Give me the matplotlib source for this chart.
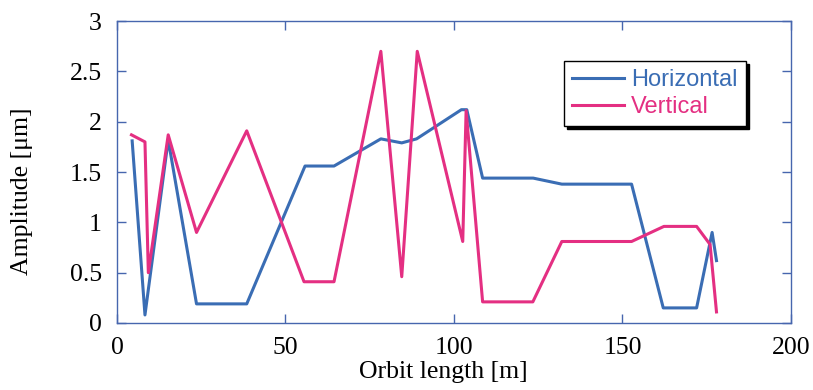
# Orbit amplitude along the ring, horizontal and vertical planes
import numpy as np
import matplotlib.pyplot as plt

# Horizontal plane
horizS = [4.5, 8.3, 15.2, 23.6, 38.5, 55.8, 64.4, 78.3, 84.5, 88.9, 102.2, 103.8,
          108.5, 123.5, 132.0, 152.7, 162.1, 172.0, 176.6, 177.9]
horizAmp = [1.81, 0.08, 1.82, 0.19, 0.19, 1.56, 1.56, 1.83, 1.79, 1.83, 2.12, 2.12,
            1.44, 1.44, 1.38, 1.38, 0.15, 0.15, 0.90, 0.62]

# Vertical plane
vertS = [4.3, 8.3, 9.3, 15.2, 23.6, 38.5, 55.5, 64.4, 78.3, 84.5, 89.1, 102.6,
         103.6, 108.5, 123.4, 132.0, 152.7, 162.3, 172.0, 176.0, 177.9]
vertAmp = [1.87, 1.80, 0.50, 1.87, 0.90, 1.91, 0.41, 0.41, 2.70, 0.46, 2.70, 0.81,
           2.11, 0.21, 0.21, 0.81, 0.81, 0.96, 0.96, 0.78, 0.11]

xTicks = [0, 50, 100, 150, 200]
yTicks = [0, 0.5, 1, 1.5, 2, 2.5, 3]

blue = "#3a6db4"
pink = "#e42f82"
axisColor = "#4766ae"

fig = plt.figure(figsize=(8.13, 3.9), dpi=100)
ax = fig.add_axes([0.1439, 0.1718, 0.829, 0.774])

ax.plot(horizS, horizAmp, color=blue, lw=2.2, label="Horizontal")
ax.plot(vertS, vertAmp, color=pink, lw=2.2, label="Vertical")

ax.set_xlim(0, 200)
ax.set_ylim(0, 3)
ax.set_xticks(xTicks)
ax.set_yticks(yTicks)
ax.set_xticklabels([str(t) for t in xTicks])
ax.set_yticklabels(["0", "0.5", "1", "1.5", "2", "2.5", "3"])

serif = "Liberation Serif"
for lab in ax.get_xticklabels() + ax.get_yticklabels():
    lab.set_fontfamily(serif)
    lab.set_fontsize(18.5)

ax.tick_params(direction="in", length=6.5, width=1, color=axisColor,
               top=True, right=True)
ax.tick_params(axis="y", pad=11)
ax.tick_params(axis="x", pad=10)
for sp in ax.spines.values():
    sp.set_color(axisColor)
    sp.set_linewidth(1)

ax.set_xlabel("Orbit length [m]", fontfamily=serif, fontsize=18.5)
ax.set_ylabel("Amplitude [μm]", fontfamily=serif, fontsize=18.5)
ax.xaxis.set_label_coords(0.484, -0.125)
ax.yaxis.set_label_coords(-0.124, 0.437)

leg = ax.legend(loc="upper left", bbox_to_anchor=(0.663, 0.868), borderaxespad=0,
                fancybox=False, edgecolor="black", framealpha=1,
                shadow={"ox": 2.2, "oy": -2.2, "color": "black", "alpha": 1},
                prop={"family": "Liberation Sans", "size": 17},
                labelcolor="linecolor", handlelength=2.2, handletextpad=0.3,
                borderpad=0.35, labelspacing=0.2)
leg.get_frame().set_linewidth(1)

fig.savefig("out.png", dpi=100)
